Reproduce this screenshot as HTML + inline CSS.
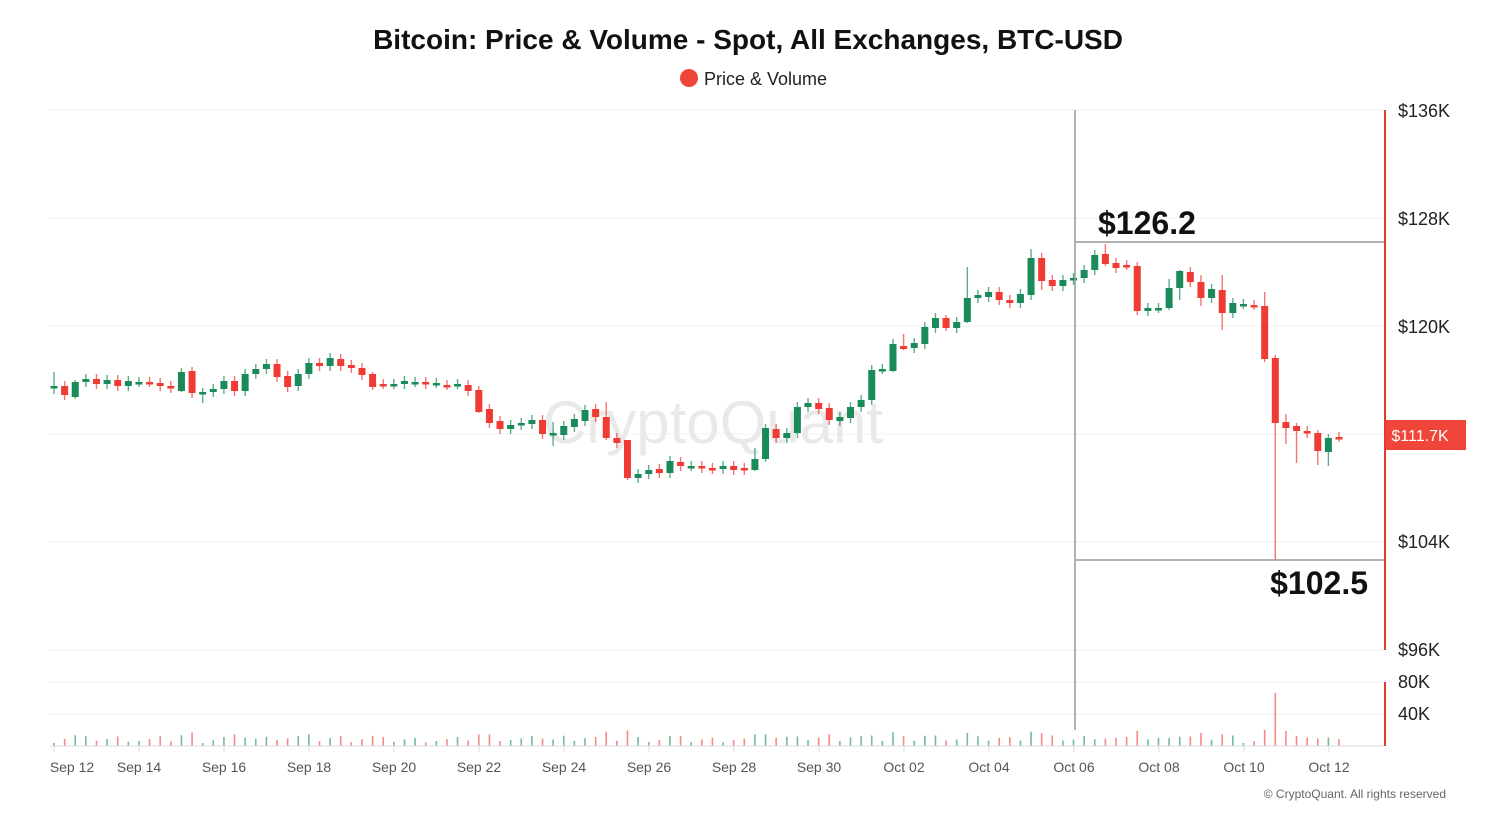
<!DOCTYPE html>
<html><head><meta charset="utf-8"><style>
html,body{margin:0;padding:0;background:#fff;}
body{width:1508px;height:828px;overflow:hidden;font-family:"Liberation Sans",sans-serif;}
</style></head><body>
<svg id="s" width="1508" height="828" xmlns="http://www.w3.org/2000/svg" font-family="Liberation Sans, sans-serif">
<text x="748" y="49" text-anchor="middle" font-size="28" font-weight="bold" fill="#111">Bitcoin: Price &amp; Volume - Spot, All Exchanges, BTC-USD</text>
<circle cx="689" cy="78" r="9" fill="#f0463a"/>
<text x="704" y="85" font-size="18" fill="#222">Price &amp; Volume</text>
<g stroke="#f0f0f0" stroke-width="1">
<line x1="50" x2="1384" y1="110" y2="110"/><line x1="50" x2="1384" y1="218" y2="218"/>
<line x1="50" x2="1384" y1="326" y2="326"/><line x1="50" x2="1384" y1="434" y2="434"/>
<line x1="50" x2="1384" y1="542" y2="542"/><line x1="50" x2="1384" y1="650" y2="650"/>
<line x1="50" x2="1384" y1="682" y2="682"/><line x1="50" x2="1384" y1="714" y2="714"/>
</g>
<text x="713" y="443" text-anchor="middle" font-size="60" fill="#e9e9e9">CryptoQuant</text>
<g id="c"></g>
<line x1="50" x2="1384" y1="746" y2="746" stroke="#ddd"/>
<g id="t"></g>
<line x1="1075" x2="1075" y1="110" y2="730" stroke="#999" stroke-width="1.5"/>
<line x1="1075" x2="1384" y1="242" y2="242" stroke="#999" stroke-width="1.5"/>
<line x1="1075" x2="1384" y1="560" y2="560" stroke="#999" stroke-width="1.5"/>
<text x="1098" y="234" font-size="32" font-weight="bold" fill="#111">$126.2</text>
<text x="1368" y="594" text-anchor="end" font-size="32" font-weight="bold" fill="#111">$102.5</text>
<line x1="1385" x2="1385" y1="110" y2="650" stroke="#e8382c" stroke-width="2"/>
<line x1="1385" x2="1385" y1="682" y2="746" stroke="#e8382c" stroke-width="2"/>
<g font-size="18" fill="#222">
<text x="1398" y="117">$136K</text><text x="1398" y="225">$128K</text><text x="1398" y="333">$120K</text>
<text x="1398" y="548">$104K</text><text x="1398" y="656">$96K</text>
<text x="1398" y="688">80K</text><text x="1398" y="720">40K</text>
</g>
<rect x="1386" y="420" width="80" height="30" fill="#f0463a"/>
<text x="1420" y="441" text-anchor="middle" font-size="16" fill="#fff">$111.7K</text>
<text x="1446" y="798" text-anchor="end" font-size="12" fill="#666">© CryptoQuant. All rights reserved</text>
</svg>
<script>
var D=[[386,386],[386,395],[397,382],[382,379],[379,384],[384,380],[380,386],[386,381],[382,382],[382,382],[383,386],[386,388],[391,372],[371,393],[392,392],[392,389],[389,381],[381,391],[391,374],[374,369],[369,364],[364,377],[376,387],[386,374],[374,363],[363,366],[366,358],[359,366],[365,368],[368,375],[374,387],[384,384],[384,384],[384,381],[382,382],[382,384],[383,383],[385,385],[384,384],[385,391],[390,412],[409,423],[421,429],[429,425],[425,423],[424,420],[420,434],[435,433],[435,426],[427,419],[421,410],[409,417],[417,438],[438,443],[440,478],[478,474],[474,470],[469,473],[473,461],[462,466],[466,466],[466,468],[468,469],[469,466],[466,470],[468,470],[470,459],[459,428],[429,438],[438,433],[433,407],[407,403],[403,409],[408,420],[421,417],[418,407],[407,400],[400,370],[369,369],[371,344],[346,349],[348,343],[344,327],[328,318],[318,328],[328,322],[322,298],[298,295],[297,292],[292,300],[300,303],[303,294],[295,258],[258,281],[280,286],[286,280],[280,278],[278,270],[270,255],[254,264],[263,268],[265,265],[266,311],[311,308],[308,308],[308,288],[288,271],[272,282],[282,298],[298,289],[290,313],[313,303],[304,304],[305,305],[306,359],[358,423],[422,428],[426,431],[431,433],[433,451],[452,438],[437,437]];
var W={54:[440,480],92:[249,300],99:[244,266],115:[355,560],114:[292,362],110:[275,330],119:[430,465],120:[434,466],117:[423,463],116:[414,444],30:[372,390],13:[367,398],12:[368,392],2:[380,399],0:[372,394],14:[388,403],40:[386,413],47:[422,446],52:[402,440],66:[448,471],67:[424,462],86:[267,323],93:[253,290],102:[262,315],105:[279,310],106:[270,300],108:[275,306],84:[315,331],80:[334,350],79:[339,372]};
var h='',G='#1a8a5a',R='#ef3b33';
for(var i=0;i<D.length;i++){var x=54+10.62*i,o=D[i][0],c=D[i][1],t=Math.min(o,c),b=Math.max(o,c);
var col=c<o?G:(c>o?R:(i%2?R:G));var w=W[i]||[t-5,b+5];
h+='<line x1="'+x+'" x2="'+x+'" y1="'+w[0]+'" y2="'+w[1]+'" stroke="'+col+'" stroke-opacity="0.7" stroke-width="1.4"/>';
h+='<rect x="'+(x-3.5)+'" y="'+t+'" width="7" height="'+Math.max(b-t,2.5)+'" fill="'+col+'"/>';
var v=3+((i*37)%7)+Math.abs(b-t)*0.25;if(i==115)v=53;if(i==114)v=16;if(i==116)v=15;if(i==117)v=10;
h+='<rect x="'+(x-0.8)+'" y="'+(746-v)+'" width="1.6" height="'+v+'" fill="'+col+'" fill-opacity="0.6"/>';}
document.getElementById('c').innerHTML=h;
var L=['Sep 12','Sep 14','Sep 16','Sep 18','Sep 20','Sep 22','Sep 24','Sep 26','Sep 28','Sep 30','Oct 02','Oct 04','Oct 06','Oct 08','Oct 10','Oct 12'],s='';
for(var k=0;k<L.length;k++){var x=54+85*k;s+='<line x1="'+x+'" x2="'+x+'" y1="746" y2="752" stroke="#ddd"/><text x="'+(k==0?72:x)+'" y="772" text-anchor="middle" font-size="14" fill="#555">'+L[k]+'</text>';}
document.getElementById('t').innerHTML=s;
</script>
</body></html>
